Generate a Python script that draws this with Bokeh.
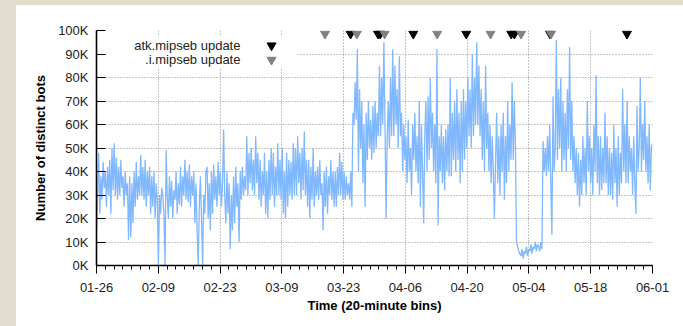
import pandas as pd
from bokeh.plotting import figure
from bokeh.models import FixedTicker, Range1d
from bokeh.embed import file_html
from bokeh.resources import INLINE
from bokeh.core.properties import value

YEAR = "2017"
x_tick_labels = ["01-26", "02-09", "02-23", "03-09", "03-23",
                 "04-06", "04-20", "05-04", "05-18", "06-01"]
y_tick_values = [0, 10, 20, 30, 40, 50, 60, 70, 80, 90, 100]
y_tick_labels = ["0K", "10K", "20K", "30K", "40K", "50K",
                 "60K", "70K", "80K", "90K", "100K"]

# Number of distinct bots (thousands), 4 readings per day
bots_k = [
    15, 30, 48, 22,   38, 28, 44, 33,   40, 25, 42, 30,   45, 22, 50, 32,   # 01-26..01-29
    52, 30, 46, 28,   42, 30, 45, 33,   38, 25, 40, 30,   35, 11, 38, 12,   # 01-30..02-02
    35, 18, 40, 25,   44, 28, 38, 30,   47, 30, 42, 28,   45, 25, 40, 30,   # 02-03..02-06
    42, 22, 38, 25,   40, 20, 35, 28,   0, 30, 22, 33,    30, 22, 0, 49,    # 02-07..02-10
    30, 20, 38, 25,   36, 20, 32, 28,   40, 22, 35, 26,   42, 25, 38, 30,   # 02-11..02-14
    45, 28, 40, 27,   43, 25, 38, 30,   40, 18, 35, 15,   0, 25, 38, 20,    # 02-15..02-18
    0, 30, 22, 40,    42, 20, 35, 15,   40, 22, 43, 28,   38, 25, 44, 30,   # 02-19..02-22
    40, 25, 35, 58,   30, 18, 40, 22,   35, 7, 30, 15,    38, 18, 42, 25,   # 02-23..02-26
    35, 10, 40, 28,   42, 30, 38, 32,   55, 30, 48, 35,   50, 32, 45, 30,   # 02-27..03-02
    55, 35, 48, 28,   45, 25, 40, 30,   48, 22, 40, 20,   45, 28, 50, 30,   # 03-03..03-06
    48, 25, 42, 30,   52, 30, 45, 28,   50, 22, 40, 20,   48, 25, 45, 30,   # 03-07..03-10
    44, 28, 52, 30,   50, 30, 55, 35,   48, 28, 50, 32,   57, 30, 45, 25,   # 03-11..03-14
    45, 20, 42, 28,   50, 25, 40, 30,   42, 28, 45, 30,   35, 15, 40, 25,   # 03-15..03-18
    42, 22, 38, 30,   45, 28, 40, 25,   40, 25, 42, 30,   48, 30, 44, 28,   # 03-19..03-22
    40, 28, 38, 30,   35, 28, 40, 25,   65, 60, 78, 62,   92, 40, 75, 50,   # 03-23..03-26
    70, 35, 60, 25,   65, 45, 70, 50,   62, 45, 68, 48,   70, 50, 65, 55,   # 03-27..03-30
    85, 55, 80, 60,   95, 60, 20, 55,   70, 50, 80, 55,   92, 55, 85, 60,   # 03-31..04-03
    75, 50, 89, 55,   65, 40, 60, 45,   55, 35, 62, 40,   50, 30, 60, 45,   # 04-04..04-07
    65, 40, 55, 35,   70, 25, 60, 40,   18, 55, 70, 40,   72, 45, 80, 50,   # 04-08..04-11
    65, 40, 60, 35,   92, 17, 55, 40,   60, 35, 55, 32,   58, 40, 60, 38,   # 04-12..04-15
    80, 38, 65, 45,   70, 40, 75, 45,   65, 35, 70, 40,   75, 45, 70, 50,   # 04-16..04-19
    80, 55, 75, 50,   90, 55, 80, 60,   95, 60, 85, 55,   75, 45, 70, 40,   # 04-20..04-23
    85, 50, 65, 40,   60, 35, 55, 40,   20, 45, 65, 35,   55, 30, 60, 40,   # 04-24..04-27
    65, 28, 55, 35,   70, 40, 60, 45,   78, 45, 70, 50,   10, 8, 6, 5,      # 04-28..05-01
    4, 7, 3, 6,       5, 8, 4, 7,       6, 9, 5, 8,       7, 10, 6, 9,      # 05-02..05-05
    8, 6, 10, 7,      53, 40, 50, 38,   55, 40, 60, 35,   13, 72, 40, 50,   # 05-06..05-09
    96, 45, 75, 50,   80, 40, 70, 45,   65, 40, 75, 50,   93, 45, 70, 40,   # 05-10..05-13
    55, 35, 50, 30,   48, 25, 45, 30,   55, 35, 50, 30,   70, 40, 55, 35,   # 05-14..05-17
    50, 30, 60, 40,   81, 35, 55, 30,   55, 32, 50, 35,   65, 35, 55, 30,   # 05-18..05-21
    50, 30, 48, 28,   60, 35, 50, 25,   55, 30, 48, 35,   75, 40, 60, 35,   # 05-22..05-25
    70, 35, 55, 40,   50, 30, 55, 35,   22, 68, 40, 50,   80, 40, 60, 45,   # 05-26..05-29
    70, 40, 55, 35,   60, 32, 50, 52,                                       # 05-30..05-31
]

# Times of the malware updates
atk_updates = ["2017-03-24 14:00", "2017-03-30 19:00", "2017-03-31 07:00",
               "2017-04-07 19:00", "2017-04-19 19:00", "2017-04-30 00:00",
               "2017-04-30 17:00", "2017-05-08 19:00", "2017-05-26 05:00"]
i_updates = ["2017-03-18 19:00", "2017-03-26 00:00", "2017-04-01 07:00",
             "2017-04-13 05:00", "2017-04-25 07:00", "2017-05-02 05:00",
             "2017-05-09 00:00"]
legend_labels = ["atk.mipseb update", ".i.mipseb update"]

FONT = "Liberation Sans"
LINE_COLOR = "#80b8ff"
PAGE_BG = "#e0ddce"


def ms(s):
    return pd.Timestamp(s).value / 1e6


x_ticks = [ms(f"{YEAR}-{lab}") for lab in x_tick_labels]
x_start, x_end = x_ticks[0], x_ticks[-1]
minor = [ms(t) for t in pd.date_range(f"{YEAR}-{x_tick_labels[0]}",
                                      f"{YEAR}-{x_tick_labels[-1]}", freq="2D")]
times = pd.date_range(f"{YEAR}-{x_tick_labels[0]}", f"{YEAR}-{x_tick_labels[-1]}",
                      periods=len(bots_k))

p = figure(width=660, height=316, x_axis_type="datetime",
           output_backend="svg", toolbar_location=None,
           x_range=Range1d(x_start, x_end), y_range=Range1d(0, 100),
           min_border_left=80, min_border_right=24,
           min_border_top=25, min_border_bottom=56,
           margin=(5, 0, 0, 16))
p.outline_line_color = None
p.background_fill_color = "white"
p.border_fill_color = "white"

# legend backing box (hides grid behind the legend)
p.quad(left=[ms("2017-01-28 07:00")], right=[ms("2017-03-12 12:00")],
       top=[97.4], bottom=[84.3], fill_color="white", line_color=None)

p.line(times, bots_k, line_color=LINE_COLOR, line_width=1.3)

p.scatter([pd.Timestamp(t) for t in atk_updates], [98.6] * len(atk_updates),
          marker="inverted_triangle", size=9, fill_color="black", line_color="black")
p.scatter([pd.Timestamp(t) for t in i_updates], [98.6] * len(i_updates),
          marker="inverted_triangle", size=9, fill_color="#808080", line_color="#808080")

# legend
leg_x_text = ms("2017-02-27 15:00")
leg_x_mark = ms("2017-03-06 16:00")
p.text(x=[leg_x_text, leg_x_text], y=[93.6, 87.5], text=legend_labels,
       text_align="right", text_baseline="middle",
       text_font=value(FONT), text_font_size="13px", text_color="#222222")
p.scatter([leg_x_mark], [93.6], marker="inverted_triangle", size=9,
          fill_color="black", line_color="black")
p.scatter([leg_x_mark], [87.5], marker="inverted_triangle", size=9,
          fill_color="#808080", line_color="#808080")

# x axis
p.xaxis.ticker = FixedTicker(ticks=x_ticks, minor_ticks=minor)
p.xgrid.ticker = FixedTicker(ticks=x_ticks)
p.xaxis.major_label_overrides = {t: lab for t, lab in zip(x_ticks, x_tick_labels)}
p.xaxis.axis_label = "Time (20-minute bins)"
p.xaxis.major_tick_out = 8
p.xaxis.major_tick_in = 0
p.xaxis.minor_tick_out = 4
p.xaxis.minor_tick_in = 0
p.xaxis.major_label_standoff = 9
p.xaxis.axis_label_standoff = 3

# y axis
p.yaxis.ticker = FixedTicker(ticks=y_tick_values, minor_ticks=[])
p.ygrid.ticker = FixedTicker(ticks=y_tick_values)
p.yaxis.major_label_overrides = {v: lab for v, lab in zip(y_tick_values, y_tick_labels)}
p.yaxis.axis_label = "Number of distinct bots"
p.yaxis.major_tick_in = 9
p.yaxis.major_tick_out = 0
p.yaxis.major_label_standoff = 8
p.yaxis.axis_label_standoff = 7

for ax in (p.xaxis, p.yaxis):
    ax.axis_line_color = "black"
    ax.axis_line_width = 1.6
    ax.major_tick_line_color = "black"
    ax.major_label_text_font = FONT
    ax.major_label_text_font_size = "13px"
    ax.major_label_text_color = "#222222"
    ax.axis_label_text_font = FONT
    ax.axis_label_text_font_size = "13px"
    ax.axis_label_text_font_style = "bold"
    ax.axis_label_text_color = "black"
p.xaxis.minor_tick_line_color = "black"
p.yaxis.minor_tick_line_color = None

for g in (p.xgrid, p.ygrid):
    g.grid_line_color = "#8a8a8a"
    g.grid_line_dash = "1 2"
    g.grid_line_width = 1

html = file_html(p, INLINE)
i = html.rfind("<body")
j = html.find(">", i)
strips = (f'<div style="position:fixed;left:0;top:0;width:16px;height:100%;'
          f'background:{PAGE_BG};"></div>'
          f'<div style="position:fixed;left:0;top:0;width:100%;height:5px;'
          f'background:{PAGE_BG};"></div>')
html = (html[:i] + '<body style="margin:0;overflow:hidden;background-color:white;">'
        + strips + html[j + 1:])
open("out.html", "w").write(html)
